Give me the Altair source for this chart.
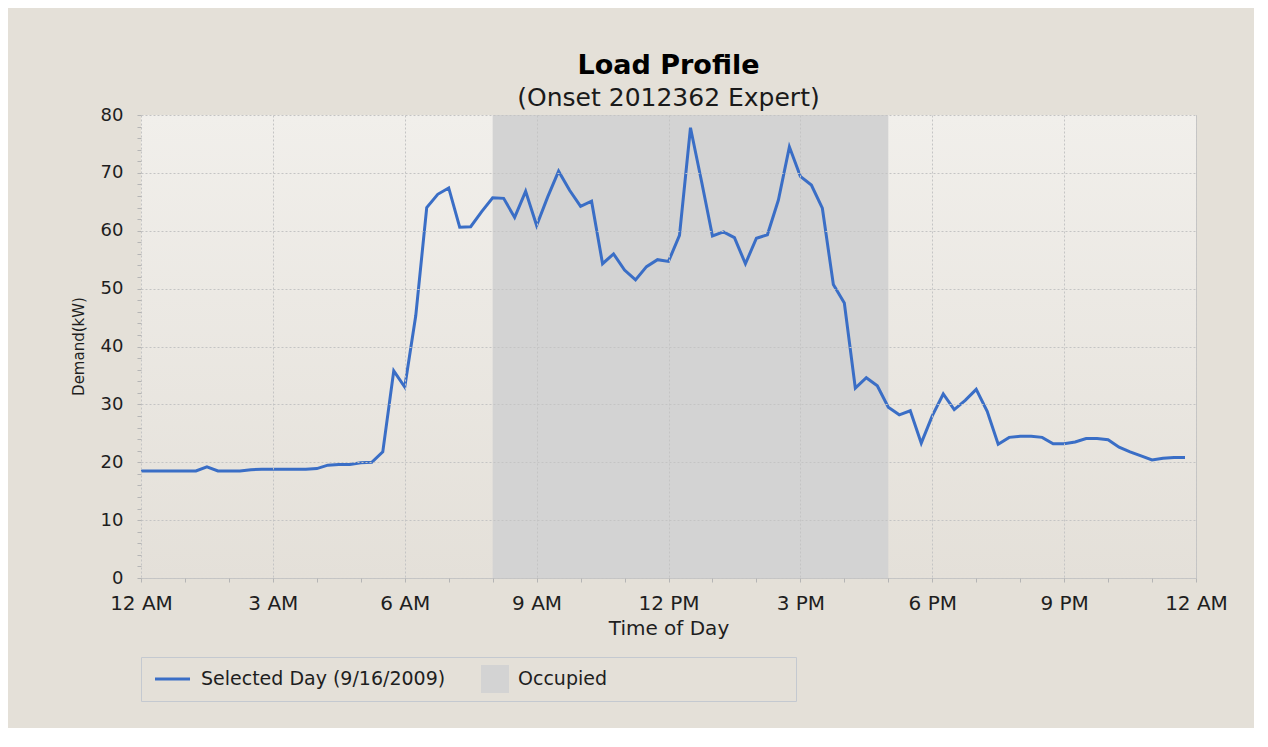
import altair as alt
import pandas as pd

# ---- data (15-minute demand readings, kW) ----
times = [
    "00:00", "00:15", "00:30", "00:45", "01:00", "01:15", "01:30", "01:45",
    "02:00", "02:15", "02:30", "02:45", "03:00", "03:15", "03:30", "03:45",
    "04:00", "04:15", "04:30", "04:45", "05:00", "05:15", "05:30", "05:45",
    "06:00", "06:15", "06:30", "06:45", "07:00", "07:15", "07:30", "07:45",
    "08:00", "08:15", "08:30", "08:45", "09:00", "09:15", "09:30", "09:45",
    "10:00", "10:15", "10:30", "10:45", "11:00", "11:15", "11:30", "11:45",
    "12:00", "12:15", "12:30", "12:45", "13:00", "13:15", "13:30", "13:45",
    "14:00", "14:15", "14:30", "14:45", "15:00", "15:15", "15:30", "15:45",
    "16:00", "16:15", "16:30", "16:45", "17:00", "17:15", "17:30", "17:45",
    "18:00", "18:15", "18:30", "18:45", "19:00", "19:15", "19:30", "19:45",
    "20:00", "20:15", "20:30", "20:45", "21:00", "21:15", "21:30", "21:45",
    "22:00", "22:15", "22:30", "22:45", "23:00", "23:15", "23:30", "23:45",
]
demand = [
    18.5, 18.5, 18.5, 18.5, 18.5, 18.5, 19.2, 18.5,
    18.5, 18.5, 18.7, 18.8, 18.8, 18.8, 18.8, 18.8,
    18.9, 19.5, 19.6, 19.6, 19.9, 20.0, 21.8, 35.8,
    33.0, 45.3, 64.0, 66.3, 67.4, 60.6, 60.7, 63.3,
    65.7, 65.6, 62.3, 66.8, 60.9, 65.8, 70.3, 67.0,
    64.2, 65.1, 54.3, 56.0, 53.2, 51.5, 53.8, 55.0,
    54.7, 59.2, 77.8, 68.6, 59.1, 59.8, 58.8, 54.3,
    58.7, 59.3, 65.3, 74.5, 69.4, 67.9, 63.9, 50.7,
    47.5, 32.8, 34.6, 33.2, 29.5, 28.2, 28.9, 23.3,
    28.0, 31.8, 29.1, 30.7, 32.6, 28.8, 23.1, 24.3,
    24.5, 24.5, 24.3, 23.2, 23.2, 23.5, 24.1, 24.1,
    23.9, 22.6, 21.8, 21.1, 20.4, 20.7, 20.8, 20.8,
]
occupied_start = [8]
occupied_end = [17]
series_names = ["Selected Day (9/16/2009)", "Occupied"]
x_tick_hours = list(range(0, 25))
y_tick_values = list(range(0, 81, 2))


def to_hours(t):
    h, m = t.split(":")
    return int(h) + int(m) / 60.0


line_df = pd.DataFrame({"h": [to_hours(t) for t in times], "v": demand})
band_df = pd.DataFrame({"start": occupied_start, "end": occupied_end})
legend_df = pd.DataFrame({"series": series_names, "h": [None] * 2, "v": [None] * 2})

FONT = "DejaVu Sans"
LINE_BLUE = "#3a6ec6"
BAND_GREY = "#d3d3d3"
PAD_CHARS = "\u2800" * 13

x_scale = alt.Scale(domain=[0, 24], nice=False, zero=False)
y_scale = alt.Scale(domain=[0, 80], nice=False)

x_axis = alt.Axis(
    values=x_tick_hours,
    labelExpr="datum.value % 3 == 0 ? ((datum.value % 12 == 0 ? '12' : '' + (datum.value % 12)) + (datum.value % 24 < 12 ? ' AM' : ' PM')) : ''",
    labelOverlap=False,
    labelFlush=False,
    labelFont=FONT,
    labelFontSize=20,
    labelColor="#1e1e1e",
    labelPadding=11,
    tickSize=4,
    tickColor="#b5b5b5",
    domain=False,
    grid=True,
    gridColor="#c4c4c4",
    gridDash=[2, 2],
    gridOpacity={"condition": {"test": "datum.value % 3 == 0", "value": 1}, "value": 0},
    title="Time of Day",
    titleFont=FONT,
    titleFontSize=20,
    titleFontWeight="normal",
    titleColor="#1e1e1e",
    titleY=50,
    titleBaseline="middle",
    zindex=1,
)

y_axis = alt.Axis(
    values=y_tick_values,
    labelExpr="datum.value % 10 == 0 ? datum.label : ''",
    labelOverlap=False,
    labelFont=FONT,
    labelFontSize=18,
    labelColor="#1e1e1e",
    labelPadding=14,
    tickSize=4,
    tickColor="#b5b5b5",
    domain=False,
    grid=True,
    gridColor="#c4c4c4",
    gridDash=[2, 2],
    gridOpacity={"condition": {"test": "datum.value % 10 == 0", "value": 1}, "value": 0},
    title="Demand(kW)",
    titleFont=FONT,
    titleFontSize=15,
    titleFontWeight="normal",
    titleColor="#1e1e1e",
    titleX=-63,
    titleY=231,
    titleAngle=270,
    titleAlign="center",
    titleBaseline="middle",
    zindex=1,
)

bg = alt.Chart(alt.Data(values=[{}])).mark_rect(
    color=alt.Gradient(
        gradient="linear",
        stops=[
            alt.GradientStop(color="#f1efeb", offset=0),
            alt.GradientStop(color="#e4e0d9", offset=1),
        ],
        x1=0, x2=0, y1=0, y2=1,
    )
)

band = alt.Chart(band_df).mark_rect(color=BAND_GREY).encode(
    x=alt.X("start:Q", scale=x_scale, axis=x_axis),
    x2="end:Q",
)

line = alt.Chart(line_df).mark_line(color=LINE_BLUE, strokeWidth=3).encode(
    x=alt.X("h:Q", scale=x_scale, axis=x_axis),
    y=alt.Y("v:Q", scale=y_scale, axis=y_axis),
)

legend_layer = alt.Chart(legend_df).mark_point(filled=True, opacity=1).encode(
    x=alt.X("h:Q", scale=x_scale, axis=x_axis),
    y=alt.Y("v:Q", scale=y_scale, axis=y_axis),
    fill=alt.Fill(
        "series:N",
        scale=alt.Scale(domain=series_names, range=[LINE_BLUE, BAND_GREY]),
        legend=alt.Legend(
            title=None,
            orient="none",
            legendX=0,
            legendY=542,
            direction="horizontal",
            strokeColor="#c4c9d0",
            padding=8,
            labelFont=FONT,
            labelFontSize=19,
            labelColor="#1e1e1e",
            labelLimit=2000,
            symbolSize=784,
            symbolStrokeWidth=0,
            labelOffset=24,
            columnPadding=20,
            labelExpr="datum.label == 'Occupied' ? 'Occupied' + '" + PAD_CHARS + "' : datum.label",
        ),
    ),
    shape=alt.Shape(
        "series:N",
        scale=alt.Scale(
            domain=series_names,
            range=[
                "M0.5,-1M0.5,1M-0.571,-0.107H1.929V0.107H-0.571Z",
                "M0.071,-1H2.071V1H0.071Z",
            ],
        ),
        legend=alt.Legend(title=None),
    ),
)

chart = (
    alt.layer(bg, band, line, legend_layer)
    .properties(
        width=1055,
        height=463,
        autosize=alt.AutoSizeParams(type="none"),
        padding={"left": 133, "top": 107, "right": 58, "bottom": 150},
        background="#e4e0d8",
        title=alt.TitleParams(
            text="Load Profile",
            subtitle="(Onset 2012362 Expert)",
            font=FONT,
            fontSize=27,
            fontWeight="bold",
            color="#000000",
            subtitleFont=FONT,
            subtitleFontSize=25,
            subtitleColor="#1a1a1a",
            subtitlePadding=6,
            anchor="middle",
            offset=-6,
        ),
    )
    .configure_view(stroke="#c6c6c6", strokeWidth=1)
)

chart.save("out.html", embed_options={"renderer": "svg", "actions": False})
